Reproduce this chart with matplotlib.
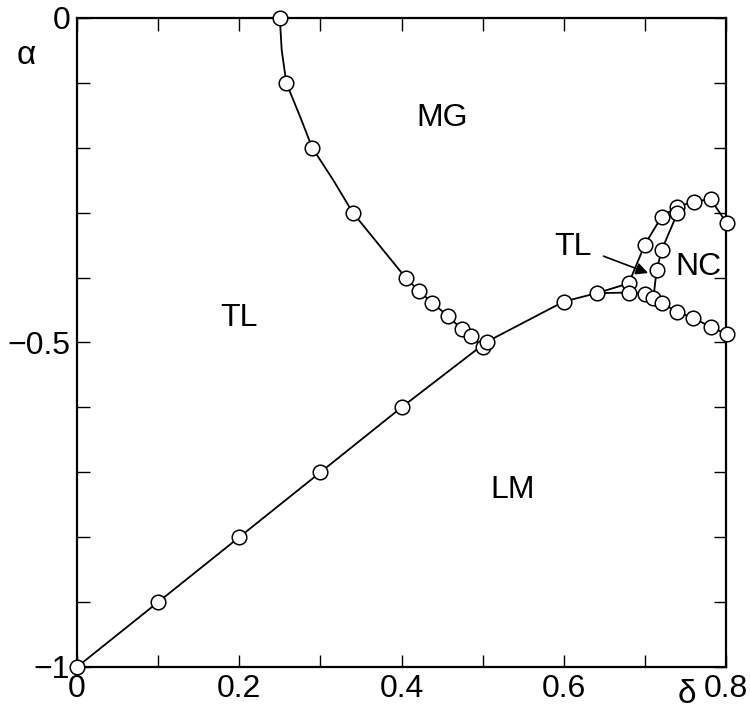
import matplotlib
matplotlib.use("Agg")
import matplotlib.pyplot as plt

plt.rcParams['font.family'] = ['Liberation Sans', 'DejaVu Sans']

# ---- data ----
# MG / TL boundary (markers)
mg_x = [0.25, 0.258, 0.29, 0.34, 0.405, 0.421, 0.438, 0.457, 0.474, 0.486, 0.5]
mg_y = [0.0, -0.10, -0.20, -0.30, -0.40, -0.42, -0.439, -0.459, -0.479, -0.49, -0.507]
# extra line vertices where the curve bends between markers
mg_line_x = [0.25, 0.2523, 0.258, 0.275, 0.29, 0.316, 0.34, 0.405, 0.421, 0.438, 0.457, 0.474, 0.486, 0.5]
mg_line_y = [0.0, -0.049, -0.10, -0.152, -0.20, -0.25, -0.30, -0.40, -0.42, -0.439, -0.459, -0.479, -0.49, -0.507]

# LM boundary, continuing into the outer NC branch
lm_x = [0.0, 0.1, 0.2, 0.3, 0.4, 0.505, 0.6, 0.6405, 0.68, 0.70, 0.7207, 0.74, 0.7606, 0.781, 0.8008]
lm_y = [-1.0, -0.9, -0.8, -0.7, -0.6, -0.499, -0.437, -0.424, -0.409, -0.349, -0.306, -0.291, -0.283, -0.279, -0.316]

# lower NC branch
nc_low_x = [0.6405, 0.68, 0.70, 0.7104, 0.7207, 0.74, 0.7597, 0.781, 0.8008]
nc_low_y = [-0.424, -0.423, -0.425, -0.432, -0.4396, -0.4525, -0.4627, -0.4756, -0.4874]

# inner NC branch
nc_in_x = [0.74, 0.7207, 0.7145, 0.7104]
nc_in_y = [-0.301, -0.3575, -0.389, -0.432]

regions = [("MG", 0.45, -0.154), ("TL", 0.20, -0.462), ("LM", 0.537, -0.727),
           ("NC", 0.766, -0.383), ("TL", 0.612, -0.353)]

# ---- plot ----
fig = plt.figure(figsize=(7.5, 7.11), dpi=100)
ax = fig.add_axes([77/750, 44/711, 649/750, 649/711])

lw = 1.3
mk = dict(marker='o', markersize=10.5, markerfacecolor='white', markeredgecolor='black',
          markeredgewidth=1.1, linestyle='none', zorder=3, clip_on=False)

ax.plot(mg_line_x, mg_line_y, color='black', lw=lw, zorder=2)
ax.plot(lm_x, lm_y, color='black', lw=lw, zorder=2)
ax.plot(nc_low_x, nc_low_y, color='black', lw=lw, zorder=2)
ax.plot(nc_in_x, nc_in_y, color='black', lw=lw, zorder=2)

ax.plot(mg_x, mg_y, **mk)
ax.plot(lm_x, lm_y, **mk)
ax.plot(nc_low_x[1:], nc_low_y[1:], **mk)
ax.plot(nc_in_x[:-1], nc_in_y[:-1], **mk)

for name, x, y in regions:
    ax.text(x, y, name, fontsize=23, ha='center', va='center')

# arrow pointing at the small TL pocket
ax.annotate("", xy=(0.704, -0.393), xytext=(0.649, -0.367),
            arrowprops=dict(arrowstyle='-|>', color='black', lw=1.2,
                            mutation_scale=18, shrinkA=0, shrinkB=0))

ax.set_xlim(0, 0.8)
ax.set_ylim(-1, 0)
ax.set_xticks([0, 0.2, 0.4, 0.6, 0.8])
ax.set_xticklabels(["0", "0.2", "0.4", "0.6", "0.8"])
ax.set_xticks([0.1, 0.3, 0.5, 0.7], minor=True)
ax.set_yticks([-1, -0.5, 0])
ax.set_yticklabels(["\u22121", "\u22120.5", "0"])
ax.set_yticks([-0.9, -0.8, -0.7, -0.6, -0.4, -0.3, -0.2, -0.1], minor=True)

ax.tick_params(which='both', direction='in', top=True, right=True, width=1.0)
ax.tick_params(which='major', length=9, labelsize=23, pad=5)
ax.tick_params(which='minor', length=9)
for s in ax.spines.values():
    s.set_linewidth(1.6)

ax.text(-0.062, -0.058, "\u03b1", fontsize=24, ha='center', va='center')
ax.text(0.752, -1.042, "\u03b4", fontsize=24, ha='center', va='center', clip_on=False)

fig.savefig("out.png", dpi=100)
